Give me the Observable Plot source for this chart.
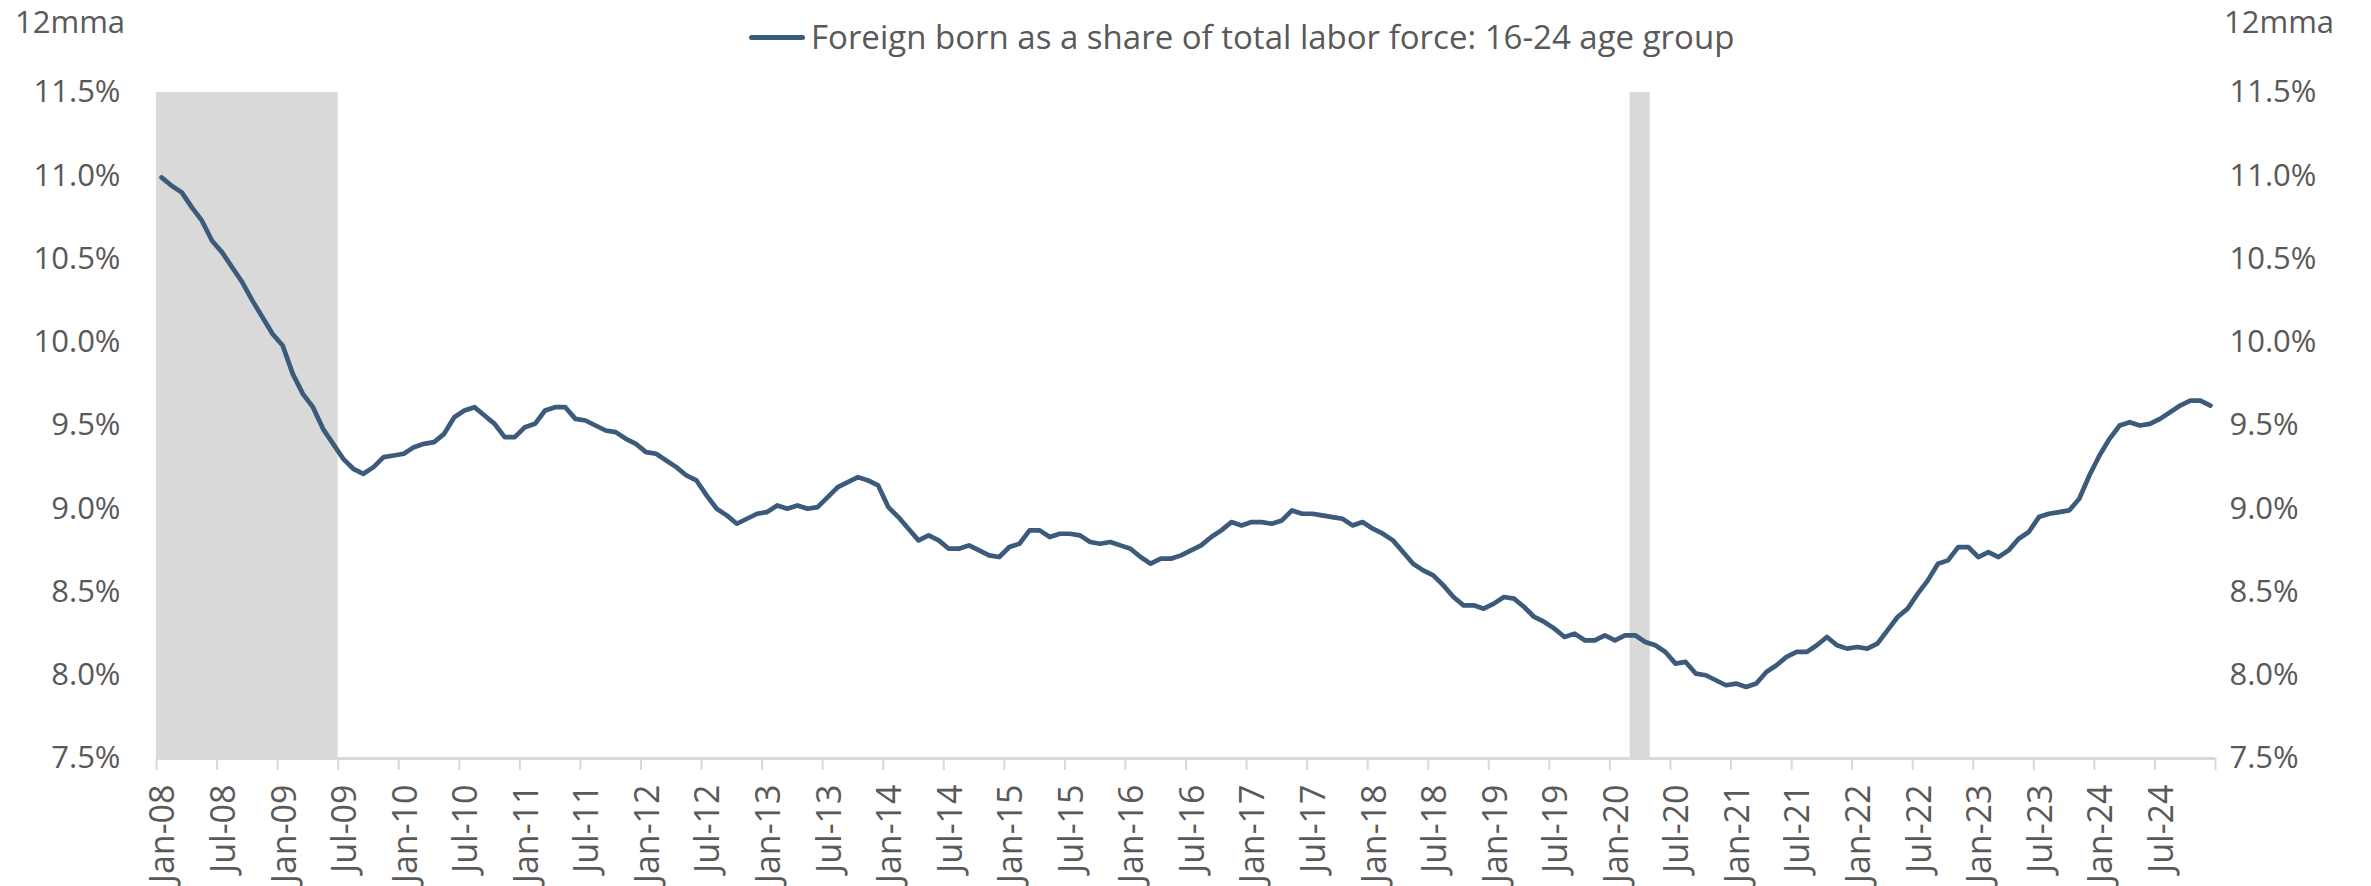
<!DOCTYPE html>
<html>
<head>
<meta charset="utf-8">
<script src="https://cdn.jsdelivr.net/npm/d3@7"></script>
<script src="https://cdn.jsdelivr.net/npm/@observablehq/plot@0.6"></script>
<style>
  body { margin: 0; background: #fff; font-family: "Open Sans", sans-serif; color: #595959; }
  #wrap { position: relative; width: 2371px; height: 886px; overflow: hidden; }
  #header { position: relative; height: 60px; }
  .hdr { position: absolute; font-size: 31px; line-height: 31px; white-space: nowrap; color: #595959; }
  .swatch { position: absolute; width: 56px; height: 5px; border-radius: 3px; }
</style>
</head>
<body>
<div id="wrap">
  <div id="header">
    <div class="hdr" style="left:15px; top:6px;">12mma</div>
    <span class="swatch" id="swatch" style="left:749px; top:35px;"></span>
    <div class="hdr" id="legend" style="left:811px; top:20px; font-size:33px; line-height:33px;"></div>
    <div class="hdr" style="left:2224px; top:6px;">12mma</div>
  </div>
  <div id="chart"></div>
</div>
<script>
// ---- data ----
const seriesName = "Foreign born as a share of total labor force: 16-24 age group";
const seriesColor = "#3b5a7c";
const startYear = 2008; // first month: Jan-2008, monthly through Dec-2024
const share = [
  // 2008
  10.99, 10.94, 10.90, 10.81, 10.73, 10.61, 10.54, 10.45, 10.36, 10.25, 10.15, 10.05,
  // 2009
  9.98, 9.81, 9.69, 9.61, 9.48, 9.39, 9.30, 9.24, 9.21, 9.25, 9.31, 9.32,
  // 2010
  9.33, 9.37, 9.39, 9.40, 9.45, 9.55, 9.59, 9.61, 9.56, 9.51, 9.43, 9.43,
  // 2011
  9.49, 9.51, 9.59, 9.61, 9.61, 9.54, 9.53, 9.50, 9.47, 9.46, 9.42, 9.39,
  // 2012
  9.34, 9.33, 9.29, 9.25, 9.20, 9.17, 9.08, 9.00, 8.96, 8.91, 8.94, 8.97,
  // 2013
  8.98, 9.02, 9.00, 9.02, 9.00, 9.01, 9.07, 9.13, 9.16, 9.19, 9.17, 9.14,
  // 2014
  9.01, 8.95, 8.88, 8.81, 8.84, 8.81, 8.76, 8.76, 8.78, 8.75, 8.72, 8.71,
  // 2015
  8.77, 8.79, 8.87, 8.87, 8.83, 8.85, 8.85, 8.84, 8.80, 8.79, 8.80, 8.78,
  // 2016
  8.76, 8.71, 8.67, 8.70, 8.70, 8.72, 8.75, 8.78, 8.83, 8.87, 8.92, 8.90,
  // 2017
  8.92, 8.92, 8.91, 8.93, 8.99, 8.97, 8.97, 8.96, 8.95, 8.94, 8.90, 8.92,
  // 2018
  8.88, 8.85, 8.81, 8.74, 8.67, 8.63, 8.60, 8.54, 8.47, 8.42, 8.42, 8.40,
  // 2019
  8.43, 8.47, 8.46, 8.41, 8.35, 8.32, 8.28, 8.23, 8.25, 8.21, 8.21, 8.24,
  // 2020
  8.21, 8.24, 8.24, 8.20, 8.18, 8.14, 8.07, 8.08, 8.01, 8.00, 7.97, 7.94,
  // 2021
  7.95, 7.93, 7.95, 8.02, 8.06, 8.11, 8.14, 8.14, 8.18, 8.23, 8.18, 8.16,
  // 2022
  8.17, 8.16, 8.19, 8.27, 8.35, 8.40, 8.49, 8.57, 8.67, 8.69, 8.77, 8.77,
  // 2023
  8.71, 8.74, 8.71, 8.75, 8.82, 8.86, 8.95, 8.97, 8.98, 8.99, 9.06, 9.20,
  // 2024
  9.32, 9.42, 9.50, 9.52, 9.50, 9.51, 9.54, 9.58, 9.62, 9.65, 9.65, 9.62
];
// recession shading: first and last month (inclusive)
const recessionStart = ["2008-01", "2020-03"];
const recessionEnd   = ["2009-06", "2020-04"];
const yTicks = [7.5, 8.0, 8.5, 9.0, 9.5, 10.0, 10.5, 11.0, 11.5];
const xTickLabels = [
  "Jan-08","Jul-08","Jan-09","Jul-09","Jan-10","Jul-10","Jan-11","Jul-11","Jan-12","Jul-12",
  "Jan-13","Jul-13","Jan-14","Jul-14","Jan-15","Jul-15","Jan-16","Jul-16","Jan-17","Jul-17",
  "Jan-18","Jul-18","Jan-19","Jul-19","Jan-20","Jul-20","Jan-21","Jul-21","Jan-22","Jul-22",
  "Jan-23","Jul-23","Jan-24","Jul-24"
];

// ---- derived tables ----
const monthIndex = s => { const [y, m] = s.split("-").map(Number); return (y - startYear) * 12 + (m - 1); };
const nMonths = share.length;
const data = share.map((v, i) => ({ x: i + 0.5, v }));
const bands = recessionStart.map((s, k) => ({ x1: monthIndex(s), x2: monthIndex(recessionEnd[k]) + 1 }));
const xTicks = xTickLabels.map((_, k) => k * 6).concat([nMonths]);
const xLabelOf = t => (t / 6 < xTickLabels.length ? xTickLabels[t / 6] : "");

// legend
document.getElementById("swatch").style.background = seriesColor;
document.getElementById("legend").textContent = seriesName;

const chart = Plot.plot({
  width: 2371,
  height: 826,
  marginTop: 32,
  marginBottom: 128,
  marginLeft: 156,
  marginRight: 156,
  style: { fontFamily: "'Open Sans', sans-serif", background: "white", color: "#595959", overflow: "visible" },
  x: { type: "linear", domain: [0, nMonths] },
  y: { domain: [7.5, 11.5] },
  marks: [
    Plot.rect(bands, { x1: "x1", x2: "x2", fill: "#d9d9d9" }),
    Plot.axisX({
      ticks: xTicks, tickSize: 12, text: null,
      stroke: "#d9d9d9", strokeWidth: 2, strokeOpacity: 1, label: null
    }),
    Plot.axisX({
      ticks: xTicks, tickFormat: xLabelOf, tickSize: 0, tickPadding: 26, tickRotate: -90,
      dx: 7, fill: "#595959", fontSize: 34, label: null
    }),
    Plot.ruleY([7.5], { stroke: "#d9d9d9", strokeWidth: 3 }),
    Plot.axisY({
      anchor: "left", ticks: yTicks, tickSize: 0, tickPadding: 36,
      tickFormat: d => d.toFixed(1) + "%", fontSize: 31, fill: "#595959", label: null
    }),
    Plot.axisY({
      anchor: "right", ticks: yTicks, tickSize: 0, tickPadding: 14,
      tickFormat: d => d.toFixed(1) + "%", fontSize: 31, fill: "#595959", label: null
    }),
    Plot.lineY(data, {
      x: "x", y: "v", stroke: seriesColor, strokeWidth: 4.7,
      strokeLinejoin: "round", strokeLinecap: "round"
    })
  ]
});
document.getElementById("chart").appendChild(chart);
</script>
</body>
</html>
